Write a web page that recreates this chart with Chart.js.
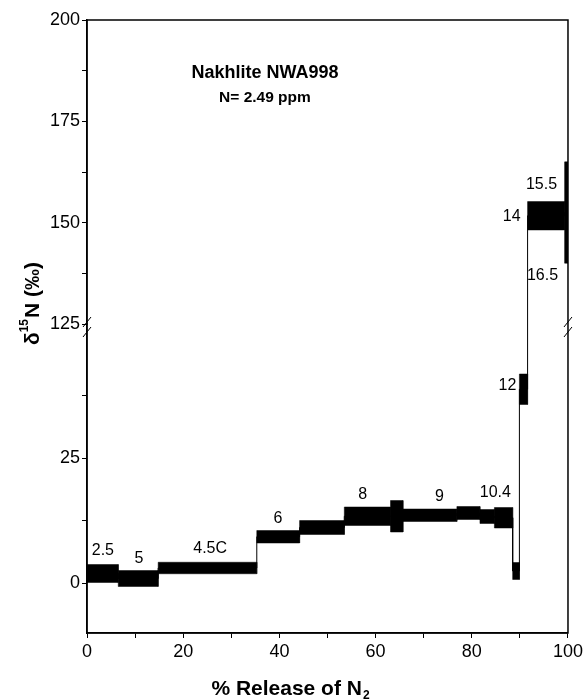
<!DOCTYPE html>
<html>
<head>
<meta charset="utf-8">
<script src="https://cdn.jsdelivr.net/npm/chart.js@4.4.0/dist/chart.umd.min.js"></script>
<style>
  html, body { margin: 0; padding: 0; background: #fff; }
</style>
</head>
<body>
<canvas id="graficoNitrogenio" width="586" height="700"></canvas>
<script>
// degraus de liberacao (% de N2 liberado) e d15N de cada degrau
const passoInicio = [0, 6.5, 14.8, 35.3, 44.2, 53.5, 63.1, 65.7, 76.9, 81.7, 84.7, 88.5, 89.9, 91.6, 99.3];
const passoFim    = [6.5, 14.8, 35.3, 44.2, 53.5, 63.1, 65.7, 76.9, 81.7, 84.7, 88.5, 89.9, 91.6, 99.3, 100];
const d15N        = [1.9, 0.9, 3.0, 9.25, 11.1, 13.35, 13.35, 13.55, 14.0, 13.3, 13.05, 2.4, 38.75, 151.7, 152.5];
const erro        = [1.8, 1.6, 1.15, 1.25, 1.4, 1.85, 3.15, 1.25, 1.3, 1.4, 2.05, 1.7, 3.05, 3.5, 12.5];

// rotulos de temperatura (x em %, y em permil)
const rotulos  = ['2.5', '5', '4.5C', '6', '8', '9', '10.4', '12', '14', '15.5', '16.5'];
const rotuloX  = [3.3, 10.8, 25.6, 39.7, 57.3, 73.3, 84.9, 87.4, 88.3, 94.5, 94.7];
const rotuloY  = [6.5, 4.8, 6.8, 12.8, 17.7, 17.3, 18.0, 39.5, 151.5, 159.4, 137.0];

const xTicks     = [0, 10, 20, 30, 40, 50, 60, 70, 80, 90, 100];
const yBaixoTicks = [0, 12.5, 25, 37.5];
const yAltoTicks  = [125, 137.5, 150, 162.5, 175, 187.5, 200];

const yBaixoMin = -10, yBaixoMax = 51.8;
const yAltoMin = 125, yAltoMax = 200;

const eixoDe = (v) => v > 100 ? 'yAlto' : 'yBaixo';

Chart.defaults.font.family = '"Liberation Sans", Arial, sans-serif';
Chart.defaults.color = '#000';

// caixas pretas (valor +- erro)
const caixas = passoInicio.map((x1, i) => {
  const x2 = passoFim[i];
  const lo = d15N[i] - erro[i];
  const hi = d15N[i] + erro[i];
  return {
    data: [{x: x1, y: lo}, {x: x1, y: hi}, {x: x2, y: hi}, {x: x2, y: lo}, {x: x1, y: lo}],
    yAxisID: eixoDe(d15N[i]),
    fill: 'shape',
    backgroundColor: '#000',
    borderColor: '#000',
    borderWidth: 0.5,
    pointRadius: 0
  };
});

// linha fina em degrau ligando as caixas
const linhaBaixo = [], linhaAlto = [];
passoInicio.forEach((x1, i) => {
  const alvo = eixoDe(d15N[i]) === 'yAlto' ? linhaAlto : linhaBaixo;
  alvo.push({x: x1, y: d15N[i]}, {x: passoFim[i], y: d15N[i]});
});
const iQuebra = d15N.findIndex(v => eixoDe(v) === 'yAlto');
linhaBaixo.push({x: passoInicio[iQuebra], y: yBaixoMax});
linhaAlto.unshift({x: passoInicio[iQuebra], y: yAltoMin});

const linhas = [
  {data: linhaBaixo, yAxisID: 'yBaixo', borderColor: '#000', borderWidth: 1, pointRadius: 0, fill: false},
  {data: linhaAlto, yAxisID: 'yAlto', borderColor: '#000', borderWidth: 1, pointRadius: 0, fill: false}
];

const extras = {
  id: 'extras',
  afterDatasetsDraw(chart) {
    const {ctx, chartArea: a, scales} = chart;
    const px = (v) => scales.x.getPixelForValue(v);
    ctx.save();
    ctx.strokeStyle = '#000';
    ctx.lineWidth = 1.5;
    ctx.strokeRect(a.left, a.top, a.right - a.left, a.bottom - a.top);

    // marcas de quebra do eixo
    const yq = scales.yAlto.bottom;
    ctx.lineWidth = 1;
    [a.left, a.right].forEach(xx => {
      [-2, 8].forEach(d => {
        ctx.beginPath();
        ctx.moveTo(xx - 4, yq + d + 5);
        ctx.lineTo(xx + 4, yq + d - 5);
        ctx.stroke();
      });
    });

    ctx.fillStyle = '#000';
    ctx.textAlign = 'center';
    ctx.textBaseline = 'middle';
    ctx.font = '16px "Liberation Sans", Arial, sans-serif';
    rotulos.forEach((t, i) => {
      const sc = scales[eixoDe(rotuloY[i])];
      ctx.fillText(t, px(rotuloX[i]), sc.getPixelForValue(rotuloY[i]));
    });

    ctx.font = 'bold 18px "Liberation Sans", Arial, sans-serif';
    ctx.fillText('Nakhlite NWA998', px(37), scales.yAlto.getPixelForValue(187));
    ctx.font = 'bold 15.5px "Liberation Sans", Arial, sans-serif';
    ctx.fillText('N= 2.49 ppm', px(37), scales.yAlto.getPixelForValue(180.8));

    // titulo do eixo x
    ctx.textAlign = 'left';
    ctx.textBaseline = 'alphabetic';
    const fGrande = 'bold 21px "Liberation Sans", Arial, sans-serif';
    const fPeq = 'bold 12px "Liberation Sans", Arial, sans-serif';
    ctx.font = fGrande;
    const t1 = '% Release of N';
    const w1 = ctx.measureText(t1).width;
    ctx.font = fPeq;
    const w2 = ctx.measureText('2').width;
    let x0 = 290 - (w1 + w2) / 2;
    ctx.font = fGrande;
    ctx.fillText(t1, x0, 695);
    ctx.font = fPeq;
    ctx.fillText('2', x0 + w1 + 1, 699);

    // titulo do eixo y
    ctx.translate(a.left - 56, a.top + 284);
    ctx.rotate(-Math.PI / 2);
    ctx.font = fGrande;
    const wd = ctx.measureText('\u03b4').width;
    const wn = ctx.measureText('N (\u2030)').width;
    ctx.font = fPeq;
    const ws = ctx.measureText('15').width;
    x0 = -(wd + ws + wn) / 2;
    ctx.font = fGrande;
    ctx.fillText('\u03b4', x0, 8);
    ctx.font = fPeq;
    ctx.fillText('15', x0 + wd, -3);
    ctx.font = fGrande;
    ctx.fillText('N (\u2030)', x0 + wd + ws + 1, 8);
    ctx.restore();
  }
};

const eixoY = (min, max, ticks, peso) => ({
  type: 'linear',
  position: 'left',
  stack: 'd15',
  stackWeight: peso,
  min: min,
  max: max,
  afterBuildTicks: (s) => { s.ticks = ticks.map(v => ({value: v})); },
  afterFit: (s) => { s.width = 87; },
  ticks: {
    autoSkip: false,
    padding: 2,
    font: {size: 18},
    callback: (v) => v % 25 === 0 ? v : ''
  },
  grid: {drawOnChartArea: false, tickLength: 5, color: '#000'},
  border: {color: '#000', width: 1.5}
});

const graficoNitrogenio = new Chart(document.getElementById('graficoNitrogenio'), {
  type: 'line',
  data: {datasets: caixas.concat(linhas)},
  options: {
    responsive: false,
    animation: false,
    layout: {padding: {top: 20, right: 18, left: 0, bottom: 0}},
    plugins: {legend: {display: false}, tooltip: {enabled: false}},
    scales: {
      x: {
        type: 'linear',
        min: 0,
        max: 100,
        afterBuildTicks: (s) => { s.ticks = xTicks.map(v => ({value: v})); },
        afterFit: (s) => { s.height = 67; },
        ticks: {
          autoSkip: false,
          maxRotation: 0,
          padding: 3,
          font: {size: 18},
          callback: (v) => v % 20 === 0 ? v : ''
        },
        grid: {drawOnChartArea: false, tickLength: 5, color: '#000'},
        border: {color: '#000', width: 1.5}
      },
      yBaixo: eixoY(yBaixoMin, yBaixoMax, yBaixoTicks, 309),
      yAlto: eixoY(yAltoMin, yAltoMax, yAltoTicks, 304)
    }
  },
  plugins: [extras]
});
</script>
</body>
</html>
